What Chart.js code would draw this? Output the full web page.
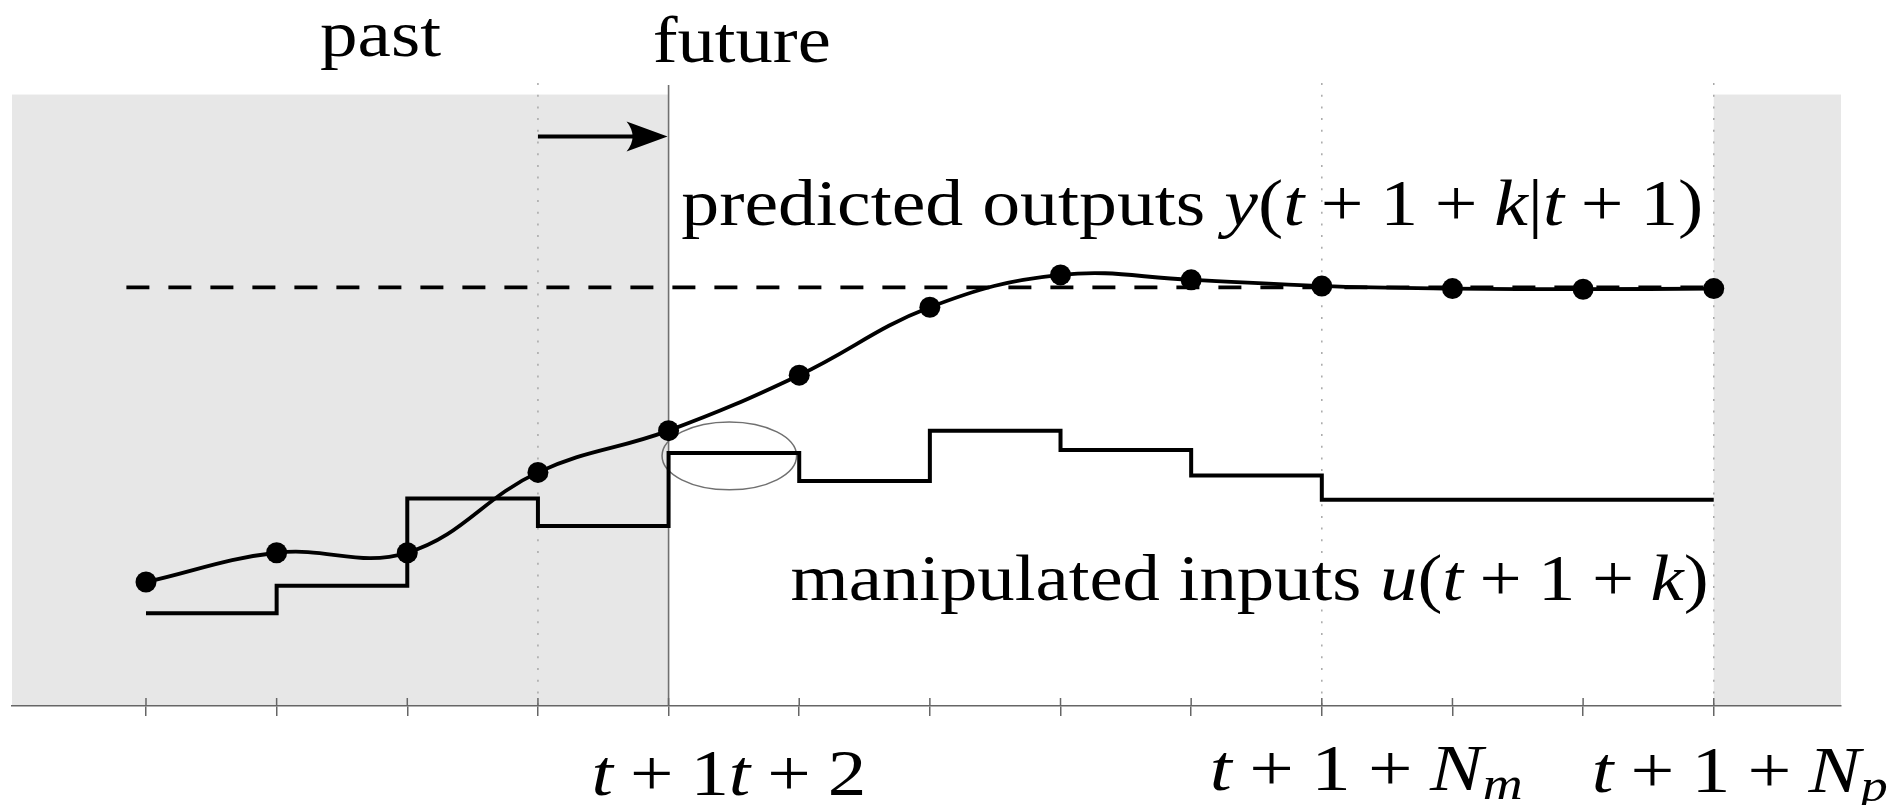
<!DOCTYPE html>
<html>
<head>
<meta charset="utf-8">
<script src="https://cdn.jsdelivr.net/npm/chart.js@4.4.0/dist/chart.umd.min.js"></script>
<style>
  html, body { margin: 0; padding: 0; background: #fff; }
  #wrap { width: 1898px; height: 805px; }
</style>
</head>
<body>
<div id="wrap"><canvas id="mpc" width="1898" height="805"></canvas></div>
<script>
// sample instants: 4 = t+1 (now), 9 = t+1+Nm, 12 = t+1+Np
const steps = [0, 1, 2, 3, 4, 5, 6, 7, 8, 9, 10, 11, 12];
const outputs = [19.9, 24.6, 24.6, 37.5, 44.2, 53.1, 64.0, 69.2, 68.4, 67.4, 67.0, 66.9, 67.0];
const inputs = [14.9, 19.3, 33.3, 28.9, 40.6, 36.1, 44.2, 41.1, 37.0, 33.1, 33.1, 33.1, 33.1];
const setpointX = [-0.15, 12];
const setpointY = [67.2, 67.2];

const nowStep = 4;
const dottedSteps = [3, 9, 12];
const tickLabelSteps = [4, 5, 9, 12];
const tickLabelMath = ["t+1", "t+2", "t+1+N_m", "t+1+N_p"];

const FONT = '"Liberation Serif", "DejaVu Serif", serif';
const SIZE = 66;

// turn "t+1+N_m" into runs: letters italic, + as binary operator, _x subscript
function runsOf(text, math) {
  const runs = [];
  if (text) runs.push([text, "r"]);
  for (let i = 0; i < math.length; i++) {
    const c = math[i];
    if (c === "_") runs.push([math[++i], "s"]);
    else if (c === "+") runs.push(["+", "b"]);
    else if (/[A-Za-z]/.test(c)) runs.push([c, "i"]);
    else runs.push([c, "r"]);
  }
  return runs;
}

function fontFor(kind, size) {
  const s = kind === "s" ? size * 0.7 : size;
  const it = (kind === "i" || kind === "s") ? "italic " : "";
  return it + s + "px " + FONT;
}

function runWidth(ctx, r, size) {
  ctx.font = fontFor(r[1], size);
  let w = ctx.measureText(r[0]).width;
  if (r[1] === "b") w += 0.44 * size;
  return w;
}

// draws the runs, stretched to the target width (Computer Modern is wider than Times)
function drawRich(ctx, runs, x, y, align, target) {
  const ws = runs.map(r => runWidth(ctx, r, SIZE));
  const natural = ws.reduce((a, b) => a + b, 0);
  const sx = target ? target / natural : 1;
  const total = natural * sx;
  const x0 = align === "right" ? x - total : align === "center" ? x - total / 2 : x;
  ctx.save();
  ctx.translate(x0, y);
  ctx.scale(sx, 1);
  ctx.fillStyle = "#000";
  ctx.textAlign = "left";
  ctx.textBaseline = "alphabetic";
  let cx = 0;
  runs.forEach((r, i) => {
    ctx.font = fontFor(r[1], SIZE);
    const dx = r[1] === "b" ? 0.22 * SIZE : 0;
    const dy = r[1] === "s" ? 0.13 * SIZE : 0;
    ctx.fillText(r[0], cx + dx, dy);
    cx += ws[i];
  });
  ctx.restore();
}

const decor = {
  id: "decor",
  beforeDraw(chart) {
    const { ctx, chartArea: a, scales: { x: xs, y: ys } } = chart;
    const px = v => xs.getPixelForValue(v);
    const py = v => ys.getPixelForValue(v);
    ctx.save();

    // shaded past / beyond horizon
    ctx.fillStyle = "#e7e7e7";
    const gTop = py(98.15);
    ctx.fillRect(a.left, gTop, px(nowStep) - a.left, a.bottom - gTop);
    ctx.fillRect(px(12), gTop, a.right - px(12), a.bottom - gTop);

    // dotted markers
    ctx.strokeStyle = "#a8a8a8";
    ctx.lineWidth = 1.5;
    ctx.setLineDash([2, 9.7]);
    dottedSteps.forEach(s => {
      ctx.beginPath();
      ctx.moveTo(px(s), a.top);
      ctx.lineTo(px(s), a.bottom);
      ctx.stroke();
    });
    ctx.setLineDash([]);

    // now line
    ctx.strokeStyle = "#707070";
    ctx.lineWidth = 1.6;
    ctx.beginPath();
    ctx.moveTo(px(nowStep), a.top + 2);
    ctx.lineTo(px(nowStep), a.bottom);
    ctx.stroke();

    // upper part of the tick marks
    ctx.strokeStyle = "#666";
    ctx.lineWidth = 1.5;
    xs.ticks.forEach(t => {
      ctx.beginPath();
      ctx.moveTo(px(t.value), a.bottom - 8);
      ctx.lineTo(px(t.value), a.bottom);
      ctx.stroke();
    });

    // ellipse around the first move
    const ex0 = px(3.95), ex1 = px(4.98), ey0 = py(45.6), ey1 = py(34.7);
    ctx.strokeStyle = "#707070";
    ctx.lineWidth = 1.5;
    ctx.beginPath();
    ctx.ellipse((ex0 + ex1) / 2, (ey0 + ey1) / 2, (ex1 - ex0) / 2, (ey1 - ey0) / 2, 0, 0, Math.PI * 2);
    ctx.stroke();

    // arrow past -> future
    const ay = py(91.4), ax0 = px(3), tip = px(nowStep) - 1, base = tip - 41;
    ctx.strokeStyle = "#000";
    ctx.lineWidth = 4;
    ctx.beginPath();
    ctx.moveTo(ax0, ay);
    ctx.lineTo(base + 10, ay);
    ctx.stroke();
    ctx.fillStyle = "#000";
    ctx.beginPath();
    ctx.moveTo(tip, ay);
    ctx.lineTo(base, ay - 15);
    ctx.quadraticCurveTo(base + 12, ay, base, ay + 15);
    ctx.closePath();
    ctx.fill();

    ctx.restore();
  },
  afterDraw(chart) {
    const { ctx, scales: { x: xs, y: ys } } = chart;
    const px = v => xs.getPixelForValue(v);
    const py = v => ys.getPixelForValue(v);

    drawRich(ctx, runsOf("past", ""), px(1.795), 56, "center", 121);
    drawRich(ctx, runsOf("future", ""), px(4.56), 62, "center", 178);
    drawRich(ctx, runsOf("predicted outputs ", "y(t+1+k|t+1)"), px(11.92), py(77.2), "right", 1022);
    drawRich(ctx, runsOf("manipulated inputs ", "u(t+1+k)"), px(11.96), py(17.0), "right", 918);

    const offs = [-77, -70.5, -112, -122];
    const base = [795, 795, 790, 792];
    const widths = [137.5, 137.5, 313, 296];
    tickLabelSteps.forEach((s, i) => {
      drawRich(ctx, runsOf("", tickLabelMath[i]), px(s) + offs[i], base[i], "left", widths[i]);
    });
  }
};

new Chart(document.getElementById("mpc"), {
  type: "line",
  data: {
    datasets: [
      {
        label: "predicted outputs",
        data: steps.map((s, i) => ({ x: s, y: outputs[i] })),
        borderColor: "#000",
        borderWidth: 3.8,
        tension: 0.4,
        pointRadius: 10.5,
        pointBackgroundColor: "#000",
        pointBorderWidth: 0
      },
      {
        label: "manipulated inputs",
        data: steps.map((s, i) => ({ x: s, y: inputs[i] })),
        borderColor: "#000",
        borderWidth: 4,
        stepped: "before",
        pointRadius: 0
      },
      {
        label: "setpoint",
        data: setpointX.map((s, i) => ({ x: s, y: setpointY[i] })),
        borderColor: "#000",
        borderWidth: 3.8,
        borderDash: [23, 19],
        pointRadius: 0
      }
    ]
  },
  options: {
    responsive: false,
    animation: false,
    events: [],
    layout: { padding: { left: 12, right: 57, top: 83, bottom: 89 } },
    plugins: { legend: { display: false }, tooltip: { enabled: false } },
    scales: {
      x: {
        type: "linear",
        min: -1.0256,
        max: 12.974,
        afterBuildTicks: s => { s.ticks = steps.map(v => ({ value: v })); },
        ticks: { display: false },
        grid: { drawOnChartArea: false, drawTicks: true, tickLength: 10, color: "#666", lineWidth: 1.5 },
        border: { color: "#666", width: 1.5 }
      },
      y: { display: false, min: 0, max: 100 }
    }
  },
  plugins: [decor]
});
</script>
</body>
</html>
